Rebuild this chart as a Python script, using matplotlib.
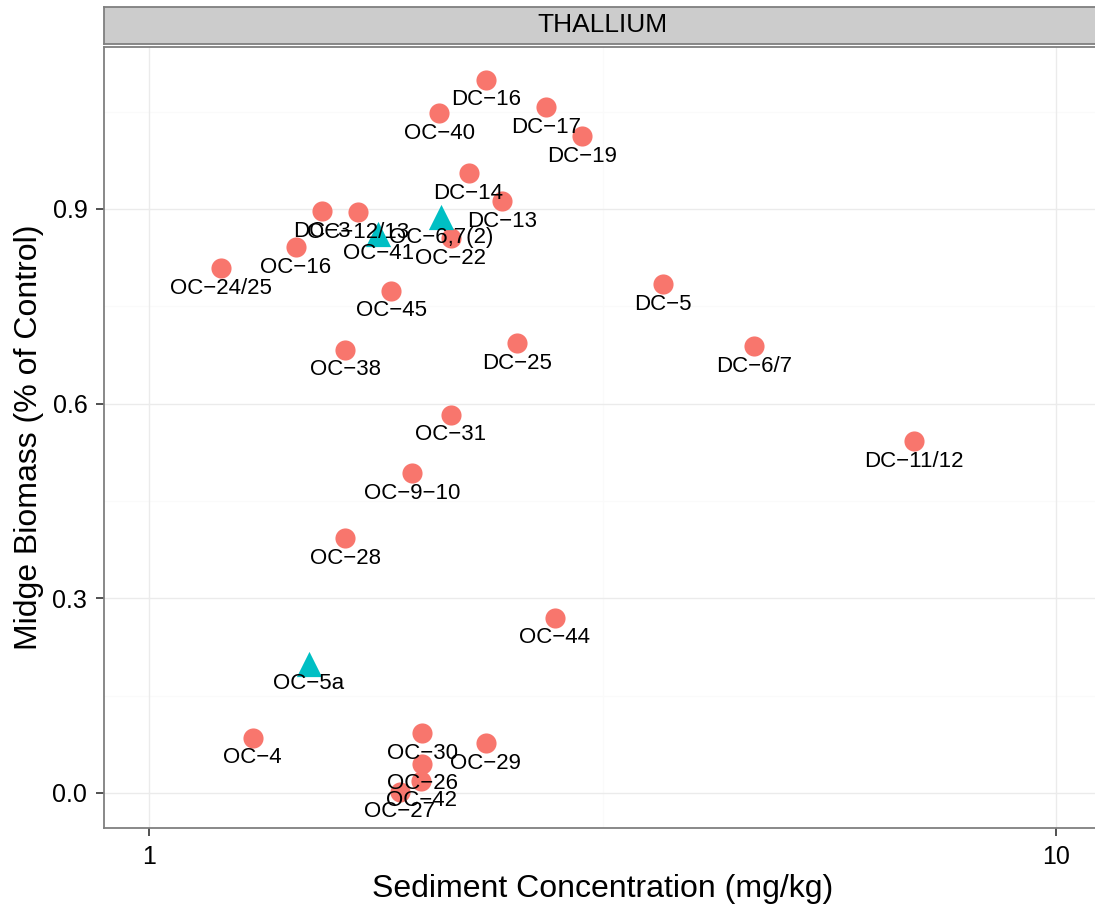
import matplotlib
matplotlib.use("Agg")
import matplotlib.pyplot as plt
import numpy as np

plt.rcParams["font.family"] = ["Liberation Sans", "DejaVu Sans"]

# Sediment thallium vs. midge biomass, one row per site
sites = [
    "DC−16", "OC−40", "DC−17", "DC−19", "DC−14", "DC−13", "DC−3", "OC−12/13",
    "OC−16", "OC−24/25", "OC−22", "OC−45", "DC−5", "OC−38", "DC−25", "DC−6/7",
    "OC−31", "DC−11/12", "OC−9−10", "OC−28", "OC−44", "OC−4", "OC−30", "OC−29",
    "OC−26", "OC−42", "OC−27",
]
conc = [
    2.35, 2.09, 2.74, 3.00, 2.25, 2.45, 1.55, 1.70,
    1.45, 1.20, 2.15, 1.85, 3.69, 1.645, 2.545, 4.645,
    2.15, 6.97, 1.95, 1.645, 2.80, 1.30, 2.00, 2.35,
    2.00, 1.995, 1.89,
]
biomass = [
    1.099, 1.048, 1.057, 1.012, 0.955, 0.912, 0.897, 0.895,
    0.841, 0.809, 0.855, 0.774, 0.784, 0.683, 0.693, 0.689,
    0.583, 0.542, 0.493, 0.393, 0.270, 0.085, 0.092, 0.077,
    0.045, 0.019, 0.002,
]

# Second group (triangles)
tri_sites = ["OC−41", "OC−6,7(2)", "OC−5a"]
tri_conc = [1.79, 2.10, 1.50]
tri_biomass = [0.862, 0.887, 0.199]

RED = "#F8766D"
TEAL = "#00BFC4"
BORDER = "#7F7F7F"

fig = plt.figure(figsize=(10.95, 9.13), dpi=100)
W, H = 1095, 913
left, right, top, bottom = 104, 1101, 47, 828
ax = fig.add_axes([left / W, 1 - bottom / H, (right - left) / W, (bottom - top) / H])

ax.set_xscale("log")
ax.set_xlim(10 ** -0.05, 10 ** 1.05)
ax.set_ylim(-0.054, 1.1496)

# grid: major + minor lines like a bw theme
for y in [0.15, 0.45, 0.75, 1.05]:
    ax.axhline(y, color="#FAFAFA", lw=1.0, zorder=0)
ax.axvline(10 ** 0.5, color="#FAFAFA", lw=1.0, zorder=0)
for y in [0.0, 0.3, 0.6, 0.9]:
    ax.axhline(y, color="#EBEBEB", lw=1.0, zorder=0)
for x in [1, 10]:
    ax.axvline(x, color="#EBEBEB", lw=1.0, zorder=0)

ax.scatter(conc, biomass, s=210, color=RED, marker="o", linewidths=0, zorder=3)
ax.scatter(tri_conc, tri_biomass, s=330, color=TEAL, marker="^", linewidths=0, zorder=4)

for name, x, y in zip(sites + tri_sites, conc + tri_conc, biomass + tri_biomass):
    ax.annotate(name, (x, y), xytext=(0, -14.5), textcoords="offset points",
                ha="center", va="center", fontsize=16, color="black", zorder=5)

ax.set_xticks([1, 10])
ax.set_xticklabels(["1", "10"])
ax.xaxis.set_minor_locator(matplotlib.ticker.NullLocator())
ax.set_yticks([0.0, 0.3, 0.6, 0.9])
ax.set_yticklabels(["0.0", "0.3", "0.6", "0.9"])
ax.tick_params(axis="both", length=6, width=1.2, color="#333333",
               labelsize=18, labelcolor="black", pad=6)

for sp in ax.spines.values():
    sp.set_color(BORDER)
    sp.set_linewidth(1.3)

ax.set_xlabel("Sediment Concentration (mg/kg)", fontsize=23, labelpad=4)
ax.set_ylabel("Midge Biomass (% of Control)", fontsize=23, labelpad=6)

# facet strip
strip_top, strip_bottom = 7, 44
sax = fig.add_axes([left / W, 1 - strip_bottom / H, (right - left) / W,
                    (strip_bottom - strip_top) / H])
sax.set_facecolor("#CCCCCC")
sax.set_xticks([])
sax.set_yticks([])
for sp in sax.spines.values():
    sp.set_color(BORDER)
    sp.set_linewidth(1.3)
sax.text(0.5, 0.5, "THALLIUM", ha="center", va="center", fontsize=19,
         transform=sax.transAxes)

fig.savefig("out.png", dpi=100)
